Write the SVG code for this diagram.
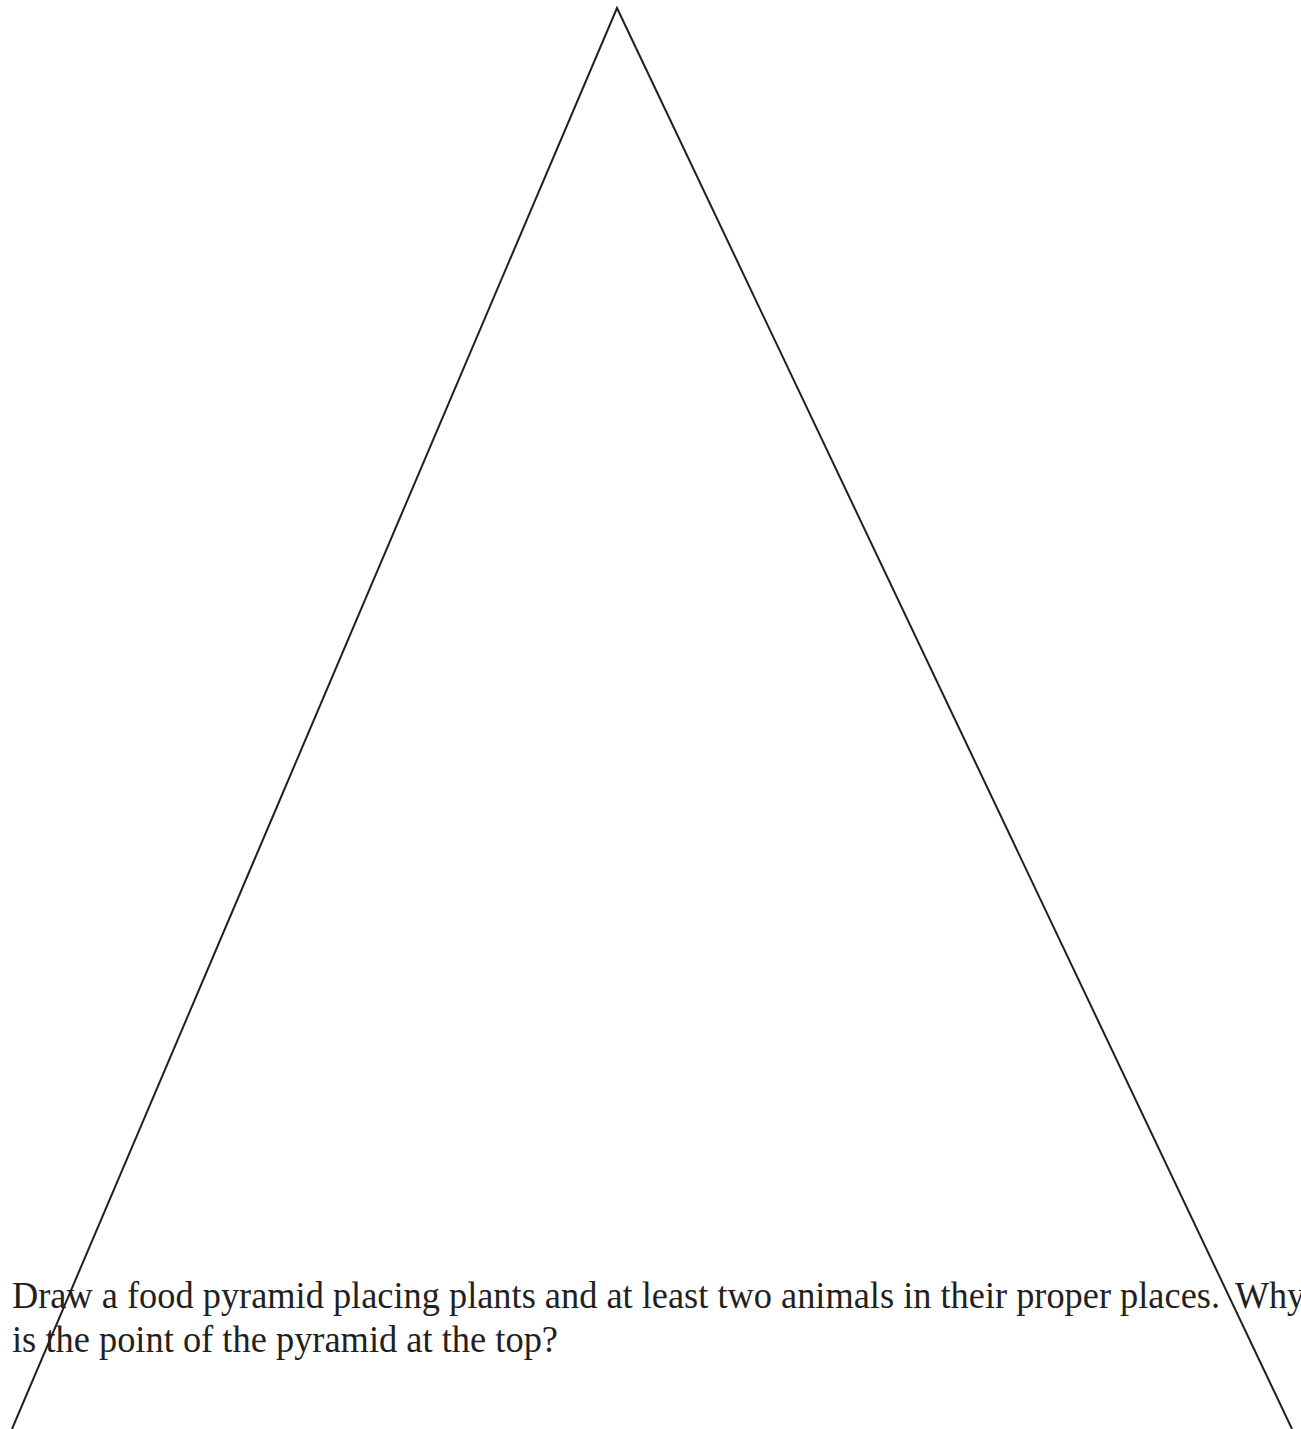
<svg xmlns="http://www.w3.org/2000/svg" width="1301" height="1429" viewBox="0 0 1301 1429">
<style>
.edge{fill:none;stroke:#231f20;stroke-width:2;stroke-linejoin:miter}
.q{font-family:"Liberation Serif","Times New Roman",serif;font-size:38px;fill:#231f20}
</style>
<rect width="1301" height="1429" fill="#ffffff"/>
<g id="connectors">
<polyline id="pyramid" class="edge" points="12,1429 617,8 1292,1429"/>
</g>
<g id="question">
<text class="q" x="12" y="1308" textLength="1208" lengthAdjust="spacingAndGlyphs">Draw a food pyramid placing plants and at least two animals in their proper places.</text>
<text class="q" x="1235" y="1308" textLength="70" lengthAdjust="spacingAndGlyphs">Why</text>
<text class="q" x="12" y="1352" textLength="546" lengthAdjust="spacingAndGlyphs">is the point of the pyramid at the top?</text>
</g>
</svg>
